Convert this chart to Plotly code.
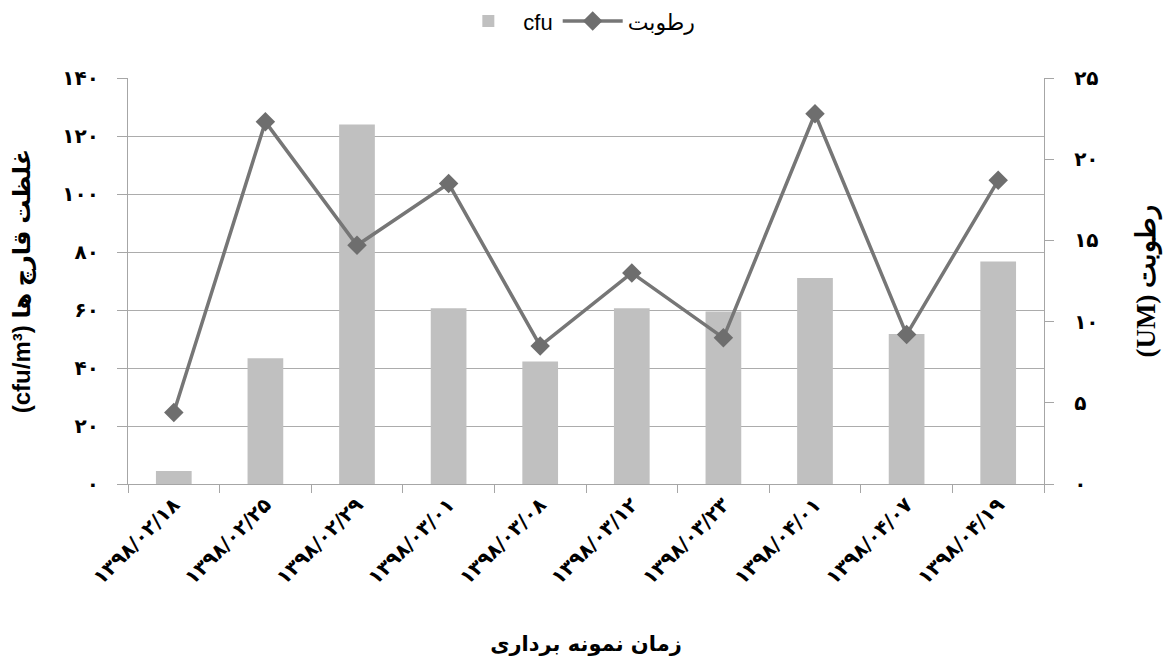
import plotly.graph_objects as go

dates = ["۱۳۹۸/۰۲/۱۸", "۱۳۹۸/۰۲/۲۵", "۱۳۹۸/۰۲/۲۹", "۱۳۹۸/۰۳/۰۱", "۱۳۹۸/۰۳/۰۸",
         "۱۳۹۸/۰۳/۱۲", "۱۳۹۸/۰۳/۲۳", "۱۳۹۸/۰۴/۰۱", "۱۳۹۸/۰۴/۰۷", "۱۳۹۸/۰۴/۱۹"]
cfu = [4.5, 43.4, 124, 60.6, 42.2, 60.6, 59.5, 71, 51.7, 76.7]
humidity = [4.4, 22.3, 14.7, 18.5, 8.5, 13.0, 9.0, 22.8, 9.2, 18.7]

left_vals = [0, 20, 40, 60, 80, 100, 120, 140]
left_text = ["۰", "۲۰", "۴۰", "۶۰", "۸۰", "۱۰۰", "۱۲۰", "۱۴۰"]
right_vals = [0, 5, 10, 15, 20, 25]
right_text = ["۰", "۵", "۱۰", "۱۵", "۲۰", "۲۵"]

bar_name = "cfu"
line_name = "رطوبت"
left_title = "\u202bغلظت قارچ ها (cfu/m³)\u202c"
right_title = "\u202bرطوبت (UM)\u202c"
x_title = "زمان نمونه برداری"

fig = go.Figure()
fig.add_trace(go.Bar(x=dates, y=cfu, name=bar_name, marker=dict(color="#c0c0c0", line=dict(width=0)),
                     yaxis="y"))
fig.add_trace(go.Scatter(x=dates, y=humidity, name=line_name, yaxis="y2", mode="lines+markers",
                         line=dict(color="#767676", width=3.5),
                         marker=dict(symbol="diamond", size=15, color="#6e6e6e")))

axis_col = "#a6a6a6"
tick_font = dict(family="DejaVu Sans", size=20, color="black", weight="bold")
fig.update_layout(
    width=1163, height=658,
    margin=dict(l=120, r=127, t=70, b=182, autoexpand=False),
    paper_bgcolor="white", plot_bgcolor="white",
    bargap=0.61,
    font=dict(family="Liberation Sans, DejaVu Sans", color="black"),
    showlegend=True,
    legend=dict(orientation="h", x=0.49, xanchor="center", y=1.14, yanchor="middle",
                font=dict(family="Liberation Sans, DejaVu Sans", size=22), itemwidth=60,
                traceorder="normal"),
    xaxis=dict(type="category", range=[-0.5, len(dates) - 0.5], showgrid=False, showline=True,
               linecolor=axis_col, linewidth=1.3,
               ticks="outside", tickson="boundaries", ticklen=8, tickcolor=axis_col, tickwidth=1.3,
               tickangle=-45, tickfont=tick_font,
               title=dict(text="<b>" + x_title + "</b>", font=dict(family="DejaVu Sans", size=21),
                          standoff=48),
               automargin=False),
    yaxis=dict(range=[0, 140], tickvals=left_vals, ticktext=left_text, showgrid=True,
               gridcolor="#acacac", gridwidth=1.3, showline=True, linecolor=axis_col, linewidth=1.3,
               ticks="outside", ticklen=10, tickcolor=axis_col, tickwidth=1.3,
               ticklabelstandoff=14,
               tickfont=tick_font,
               title=dict(text="<b>" + left_title + "</b>", font=dict(family="Liberation Sans, DejaVu Sans", size=24),
                          standoff=24),
               zeroline=False, automargin=False),
    yaxis2=dict(range=[0, 25], tickvals=right_vals, ticktext=right_text, overlaying="y", side="right",
                showgrid=False, showline=True, linecolor=axis_col, linewidth=1.3,
                ticks="outside", ticklen=9, tickcolor=axis_col, tickwidth=1.3,
                ticklabelstandoff=16,
                tickfont=tick_font,
                title=dict(text="<b>" + right_title + "</b>", font=dict(family="Liberation Serif", size=27),
                           standoff=38),
                zeroline=False, automargin=False),
)

fig.write_html("out.html")
